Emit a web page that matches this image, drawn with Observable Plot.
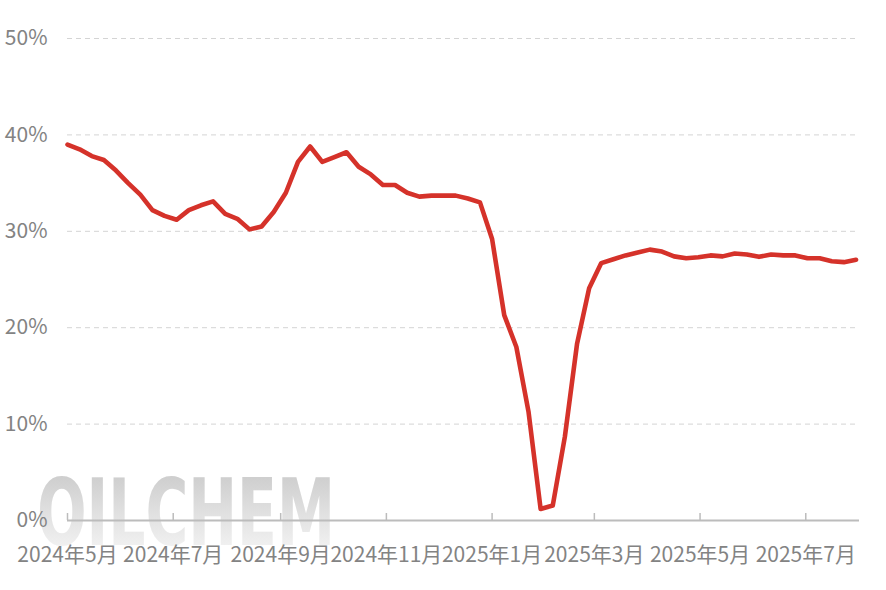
<!DOCTYPE html>
<html>
<head>
<meta charset="utf-8">
<script src="https://cdn.jsdelivr.net/npm/d3@7"></script>
<script src="https://cdn.jsdelivr.net/npm/@observablehq/plot@0.6"></script>
<style>
  html, body { margin: 0; padding: 0; background: #fff; }
  #chart svg { display: block; }
</style>
</head>
<body>
<div id="chart"></div>
<script>
const dates = [
  "2024-05-01","2024-05-08","2024-05-15","2024-05-22","2024-05-29",
  "2024-06-05","2024-06-12","2024-06-19","2024-06-26",
  "2024-07-03","2024-07-10","2024-07-17","2024-07-24","2024-07-31",
  "2024-08-07","2024-08-14","2024-08-21","2024-08-28",
  "2024-09-04","2024-09-11","2024-09-18","2024-09-25",
  "2024-10-02","2024-10-09","2024-10-16","2024-10-23","2024-10-30",
  "2024-11-06","2024-11-13","2024-11-20","2024-11-27",
  "2024-12-04","2024-12-11","2024-12-18","2024-12-25",
  "2025-01-01","2025-01-08","2025-01-15","2025-01-22","2025-01-29",
  "2025-02-05","2025-02-12","2025-02-19","2025-02-26",
  "2025-03-05","2025-03-12","2025-03-19","2025-03-26",
  "2025-04-02","2025-04-09","2025-04-16","2025-04-23","2025-04-30",
  "2025-05-07","2025-05-14","2025-05-21","2025-05-28",
  "2025-06-04","2025-06-11","2025-06-18","2025-06-25",
  "2025-07-02","2025-07-09","2025-07-16","2025-07-23","2025-07-30"
];
const values = [
  39.0, 38.5, 37.8, 37.4, 36.3,
  35.0, 33.8, 32.2, 31.6,
  31.2, 32.2, 32.7, 33.1, 31.8,
  31.3, 30.2, 30.5, 32.0,
  34.0, 37.2, 38.8, 37.2,
  37.7, 38.2, 36.7, 35.9, 34.8,
  34.8, 34.0, 33.6, 33.7,
  33.7, 33.7, 33.4, 33.0,
  29.2, 21.3, 18.0, 11.3, 1.2,
  1.55, 8.7, 18.3, 24.1,
  26.7, 27.1, 27.5, 27.8,
  28.1, 27.9, 27.4, 27.2, 27.3,
  27.5, 27.4, 27.7, 27.6,
  27.35, 27.6, 27.5, 27.5,
  27.2, 27.2, 26.9, 26.8, 27.05
];
const xTicks = ["2024-05-01","2024-07-01","2024-09-01","2024-11-01","2025-01-01","2025-03-01","2025-05-01","2025-07-01"];
const xTickLabels = ["2024年5月","2024年7月","2024年9月","2024年11月","2025年1月","2025年3月","2025年5月","2025年7月"];
const yTicks = [0, 10, 20, 30, 40, 50];
const xDomain = ["2024-05-01", "2025-08-01"];

const data = dates.map((d, i) => ({date: new Date(d), value: values[i]}));
const tickDates = xTicks.map(d => new Date(d));
const labelFor = d => xTickLabels[tickDates.findIndex(t => +t === +d)];

const FONT = "'Noto Sans CJK SC', 'Noto Sans', sans-serif";

function watermark() {
  const g = d3.create("svg:g");
  const grad = g.append("defs").append("linearGradient")
    .attr("id", "wmgrad").attr("x1", 0).attr("y1", 0).attr("x2", 0).attr("y2", 1);
  grad.append("stop").attr("offset", "0%").attr("stop-color", "#c6c6c6");
  grad.append("stop").attr("offset", "100%").attr("stop-color", "#fbfbfb");
  g.append("text")
    .attr("x", 37).attr("y", 545)
    .attr("text-anchor", "start")
    .attr("font-family", "'DejaVu Sans Condensed', 'DejaVu Sans', sans-serif")
    .attr("font-weight", "bold")
    .attr("font-size", 92)
    .attr("textLength", 298)
    .attr("lengthAdjust", "spacingAndGlyphs")
    .attr("fill", "url(#wmgrad)")
    .text("OILCHEM");
  return g.node();
}

const chart = Plot.plot({
  width: 886,
  height: 590,
  marginLeft: 67,
  marginRight: 27,
  marginTop: 38,
  marginBottom: 70,
  style: {fontFamily: FONT, fontSize: "21px", color: "#838383", background: "#fff"},
  x: {type: "utc", domain: xDomain.map(d => new Date(d))},
  y: {domain: [0, 50]},
  marks: [
    watermark,
    Plot.gridY(yTicks.filter(d => d > 0), {stroke: "#d4d4d4", strokeOpacity: 1, strokeDasharray: "5,4", strokeWidth: 1}),
    Plot.axisY(yTicks, {tickSize: 0, tickPadding: 20, tickFormat: d => d + "%", fill: "#838383", fontSize: 21, label: null}),
    Plot.ruleY([0], {stroke: "#bcbcbc", strokeWidth: 2}),
    Plot.axisX(tickDates, {tickSize: -7, stroke: "#bcbcbc", strokeWidth: 1.5, text: null, label: null}),
    Plot.axisX(tickDates, {tickSize: 0, tickPadding: 27, tickFormat: labelFor, fill: "#838383", fontSize: 21, label: null}),
    Plot.lineY(data, {x: "date", y: "value", stroke: "#d5322a", strokeWidth: 4.6, strokeLinejoin: "round"})
  ]
});
document.getElementById("chart").appendChild(chart);
</script>
</body>
</html>
